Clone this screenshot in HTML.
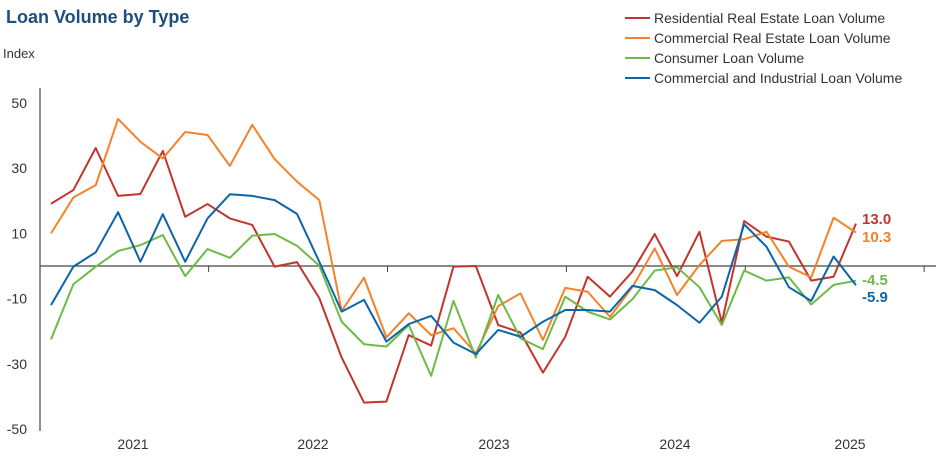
<!DOCTYPE html>
<html><head><meta charset="utf-8"><style>
body{margin:0;background:#fff;}
svg text{font-family:"Liberation Sans",Arial,sans-serif;}
</style></head><body>
<svg id="chart" width="941" height="471" xmlns="http://www.w3.org/2000/svg">
<text x="6" y="23" font-size="18" font-weight="bold" fill="#1d4f7c">Loan Volume by Type</text>
<text x="3" y="58" font-size="13" fill="#333">Index</text>
<g id="axes"></g><g id="series"></g><g id="legend"></g>
</svg>
<script>
const yTicks=[50,30,10,-10,-30,-50];
const years=["2021","2022","2023","2024","2025"];
const seriesNames=["Residential Real Estate Loan Volume","Commercial Real Estate Loan Volume","Consumer Loan Volume","Commercial and Industrial Loan Volume"];
const residential=[19.1,23.3,36.2,21.5,22.1,35.3,15.1,19.0,14.6,12.6,-0.2,1.2,-9.9,-28.1,-41.9,-41.6,-21.2,-24.4,-0.2,0,-18.1,-20.4,-32.7,-21.7,-3.3,-9.4,-1.7,9.8,-3.1,10.5,-17.4,13.8,9.0,7.5,-4.5,-3.3,13.0];
const commercialRE=[10.0,21.0,24.8,45.1,38.1,33.0,41.1,40.2,30.7,43.3,32.8,25.9,20.2,-13.8,-3.6,-21.9,-14.5,-21.2,-19.1,-26.8,-12.3,-8.4,-22.7,-6.7,-7.9,-15.6,-6.5,5.4,-8.9,0.3,7.7,8.2,10.5,-0.2,-3.5,14.8,10.3];
const consumer=[-22.5,-5.6,-0.2,4.6,6.4,9.5,-3.1,5.2,2.5,9.3,9.8,6.2,0.1,-17.1,-24.0,-24.7,-18.1,-33.7,-10.7,-28.1,-8.9,-22.2,-25.5,-9.4,-14.0,-16.4,-10.2,-1.4,-0.4,-6.5,-18.1,-1.4,-4.5,-3.5,-11.8,-5.8,-4.5];
const commercialInd=[-12.0,-0.2,4.2,16.5,1.3,15.9,1.3,14.6,22.0,21.5,20.2,16.0,1.3,-14.0,-10.4,-23.2,-17.8,-15.3,-23.5,-27.0,-19.6,-21.7,-17.1,-13.5,-13.5,-14.0,-6.1,-7.4,-12.0,-17.4,-9.4,12.8,5.9,-6.5,-10.7,2.9,-5.9];
const endLabels=["13.0","10.3","-4.5","-5.9"];
const colors=["#c3352c","#f4822a","#6cbb47","#0b65ab"];
const NS="http://www.w3.org/2000/svg";
const y=v=>266-v*3.26;
const x=i=>51+i*22.36;
function mk(tag,attrs,parent){const e=document.createElementNS(NS,tag);for(const k in attrs)e.setAttribute(k,attrs[k]);parent.appendChild(e);return e;}
const axes=document.getElementById('axes');
let yl=mk('line',{x1:40,y1:88,x2:40,y2:431,stroke:'#444','stroke-width':1.2},axes);


yTicks.forEach(t=>{
 const tx=mk('text',{x:27,y:y(t)+5,'font-size':14,fill:'#333','text-anchor':'end'},axes);
 tx.textContent=t;
 
 
});
let zl=mk('line',{x1:40,y1:266,x2:936,y2:266,stroke:'#444','stroke-width':1.2},axes);


years.forEach((yr,k)=>{
 const start=x(-1.5+k*8)+22.36*0.5;
 const tk=mk('line',{x1:start+180,y1:266,x2:start+180,y2:272,stroke:'#444'},axes);
 
 
 const tx=mk('text',{x:[133,313,494,675,850][k],y:449,'font-size':14,fill:'#333','text-anchor':'middle'},axes);
 tx.textContent=yr;
 
 
});
const data=[residential,commercialRE,consumer,commercialInd];
const sg=document.getElementById('series');
const labelY=[224,242,285,302];
data.forEach((arr,s)=>{
 const p=mk('polyline',{points:arr.map((v,i)=>x(i)+','+y(v)).join(' '),fill:'none',stroke:colors[s],'stroke-width':2,'stroke-linejoin':'round'},sg);
 
 
 const t=mk('text',{x:862,y:labelY[s],'font-size':15,'font-weight':'bold',fill:colors[s]},sg);
 t.textContent=endLabels[s];
 
 
});
const lg=document.getElementById('legend');
seriesNames.forEach((n,s)=>{
 const ly=18+s*20;
 const l=mk('line',{x1:625,y1:ly,x2:650,y2:ly,stroke:colors[s],'stroke-width':2},lg);
 
 
 const t=mk('text',{x:654,y:ly+5,'font-size':14,fill:'#333'},lg);
 t.textContent=n;
 
 
});
</script>
</body></html>
